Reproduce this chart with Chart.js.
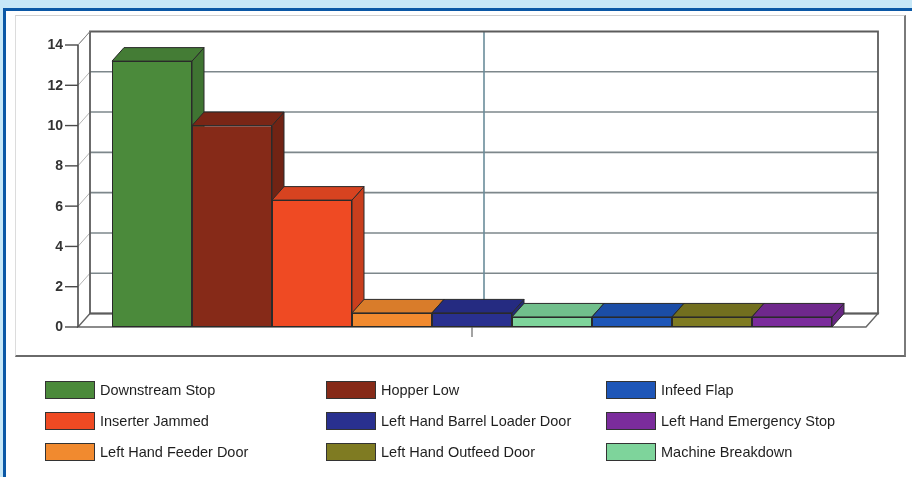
<!DOCTYPE html>
<html><head><meta charset="utf-8">
<script src="https://cdn.jsdelivr.net/npm/chart.js@4"></script>
<style>
html,body{margin:0;padding:0;}
body{width:912px;height:477px;position:relative;overflow:hidden;background:#fff;font-family:"Liberation Sans",Arial,sans-serif;}
#topband{position:absolute;left:0;top:0;width:912px;height:8px;background:#c7e8f8;}
#leftband{position:absolute;left:0;top:0;width:3px;height:477px;background:#c7e8f8;}
#frameTop{position:absolute;left:3px;top:8px;width:909px;height:3px;background:#0b58a6;}
#frameLeft{position:absolute;left:3px;top:8px;width:3px;height:469px;background:#0b58a6;}
#panel{position:absolute;left:15px;top:15px;width:888px;height:339px;border-top:1px solid #d0d0d0;border-left:1px solid #dcdcdc;border-right:2px solid #7a7a7a;border-bottom:2px solid #6a6a6a;}
#c{position:absolute;left:0;top:0;}
.lg{position:absolute;height:18px;display:flex;align-items:center;}
.sw{width:48px;height:16px;border:1px solid #333;box-sizing:content-box;}
.tx{margin-left:5px;font-size:14.5px;color:#1e1e1e;white-space:nowrap;}
</style></head>
<body>
<div id="topband"></div><div id="leftband"></div>
<div id="frameTop"></div><div id="frameLeft"></div>
<div id="panel"></div>
<canvas id="c" width="912" height="477"></canvas>
<div id="legend"></div>
<script>
const categories = [""];
const seriesNames = ["Downstream Stop","Hopper Low","Inserter Jammed","Left Hand Feeder Door","Left Hand Barrel Loader Door","Machine Breakdown","Infeed Flap","Left Hand Outfeed Door","Left Hand Emergency Stop"];
const seriesValues = [13.2,10,6.3,0.7,0.7,0.5,0.5,0.5,0.5];
const seriesColors = ["#4b8a3b","#862a18","#ef4a23","#f18a2f","#29308f","#7ed49b","#1e56b8","#7f7b22","#7b2c9c"];
const yTicks = [0,2,4,6,8,10,12,14];

const DX = 12, DY = 13.5;

function shade(hex, f){
  const n = parseInt(hex.slice(1),16);
  const r = Math.round(((n>>16)&255)*f), g = Math.round(((n>>8)&255)*f), b = Math.round((n&255)*f);
  return `rgb(${r},${g},${b})`;
}
function poly(ctx, pts, fill, stroke, lw){
  ctx.beginPath();
  ctx.moveTo(pts[0][0],pts[0][1]);
  for(let i=1;i<pts.length;i++) ctx.lineTo(pts[i][0],pts[i][1]);
  ctx.closePath();
  if(fill){ctx.fillStyle=fill;ctx.fill();}
  if(stroke){ctx.strokeStyle=stroke;ctx.lineWidth=lw||1;ctx.stroke();}
}
function line(ctx,x1,y1,x2,y2,c,w){
  ctx.beginPath();ctx.moveTo(x1,y1);ctx.lineTo(x2,y2);ctx.strokeStyle=c;ctx.lineWidth=w;ctx.stroke();
}

const threeD = {
  id:'threeD',
  beforeDatasetsDraw(chart){
    const ctx = chart.ctx, ca = chart.chartArea;
    const y = chart.scales.y, x = chart.scales.x;
    const L = ca.left, R = ca.right, T = y.getPixelForValue(yTicks[yTicks.length-1]), B = y.getPixelForValue(0);
    ctx.save();
    poly(ctx, [[L+DX,T-DY],[R+DX,T-DY],[R+DX,B-DY],[L+DX,B-DY]], '#ffffff', null);
    poly(ctx, [[L,T],[L+DX,T-DY],[L+DX,B-DY],[L,B]], '#ffffff', null);
    yTicks.forEach(v=>{
      const py = y.getPixelForValue(v);
      if(v>0 && v<14) line(ctx, L+DX, py-DY, R+DX, py-DY, '#7d878b', 1.6);
      line(ctx, L, py, L+DX, py-DY, '#b4b4b4', 1);
    });
    const cx = x.getPixelForValue(0);
    line(ctx, cx+DX, T-DY, cx+DX, B-DY, '#6a8c9a', 1.6);
    poly(ctx, [[L,B],[R,B],[R+DX,B-DY],[L+DX,B-DY]], '#ffffff', '#666', 1.4);
    poly(ctx, [[L+DX,T-DY],[R+DX,T-DY],[R+DX,B-DY],[L+DX,B-DY]], null, '#5c5c5c', 1.8);
    line(ctx, L, T, L+DX, T-DY, '#888', 1);
    line(ctx, L, T, L, B, '#4a4a4a', 1.6);
    ctx.font = 'bold 14px "Liberation Sans", Arial, sans-serif';
    ctx.fillStyle = '#333';
    ctx.textAlign = 'right';
    ctx.textBaseline = 'middle';
    yTicks.forEach(v=>{
      const py = y.getPixelForValue(v);
      line(ctx, L-13, py, L, py, '#4a4a4a', 1.4);
      ctx.fillText(String(v), L-15, py+0.5);
    });
    line(ctx, cx, B, cx, B+10, '#666', 1.2);
    chart.data.datasets.forEach((ds,i)=>{
      const el = chart.getDatasetMeta(i).data[0];
      if(!el) return;
      const x0 = el.x - el.width/2, x1 = el.x + el.width/2, yt = el.y, yb = el.base;
      const col = seriesColors[i];
      poly(ctx, [[x1,yt],[x1+DX,yt-DY],[x1+DX,yb-DY],[x1,yb]], shade(col,0.84), '#2a2a2a', 1);
      poly(ctx, [[x0,yt],[x0+DX,yt-DY],[x1+DX,yt-DY],[x1,yt]], shade(col,0.9), '#2a2a2a', 1);
    });
    ctx.restore();
  }
};

const datasets = seriesNames.map((n,i)=>({
  label:n,
  data:[seriesValues[i]],
  backgroundColor:seriesColors[i],
  borderColor:'#2a2a2a',
  borderWidth:1,
  borderSkipped:false,
  categoryPercentage:0.9137,
  barPercentage:1
}));

const chart = new Chart(document.getElementById('c'), {
  type:'bar',
  data:{labels:categories, datasets},
  options:{
    responsive:false,
    animation:false,
    events:[],
    layout:{padding:{left:78,right:46,top:45,bottom:150}},
    plugins:{legend:{display:false},tooltip:{enabled:false},title:{display:false}},
    scales:{
      x:{display:false,grid:{display:false}},
      y:{display:false,min:0,max:14,ticks:{stepSize:2}}
    }
  },
  plugins:[threeD]
});

const legendNames = seriesNames.slice().sort((a,b)=>a.localeCompare(b));
const colX = [45,326,606], rowY = [381,412,443];
const lg = document.getElementById('legend');
legendNames.forEach((n,k)=>{
  const i = seriesNames.indexOf(n);
  const d = document.createElement('div');
  d.className='lg';
  d.style.left = colX[k%3]+'px';
  d.style.top = rowY[Math.floor(k/3)]+'px';
  d.innerHTML = `<div class="sw" style="background:${seriesColors[i]}"></div><div class="tx">${n}</div>`;
  lg.appendChild(d);
});
</script>
</body></html>
